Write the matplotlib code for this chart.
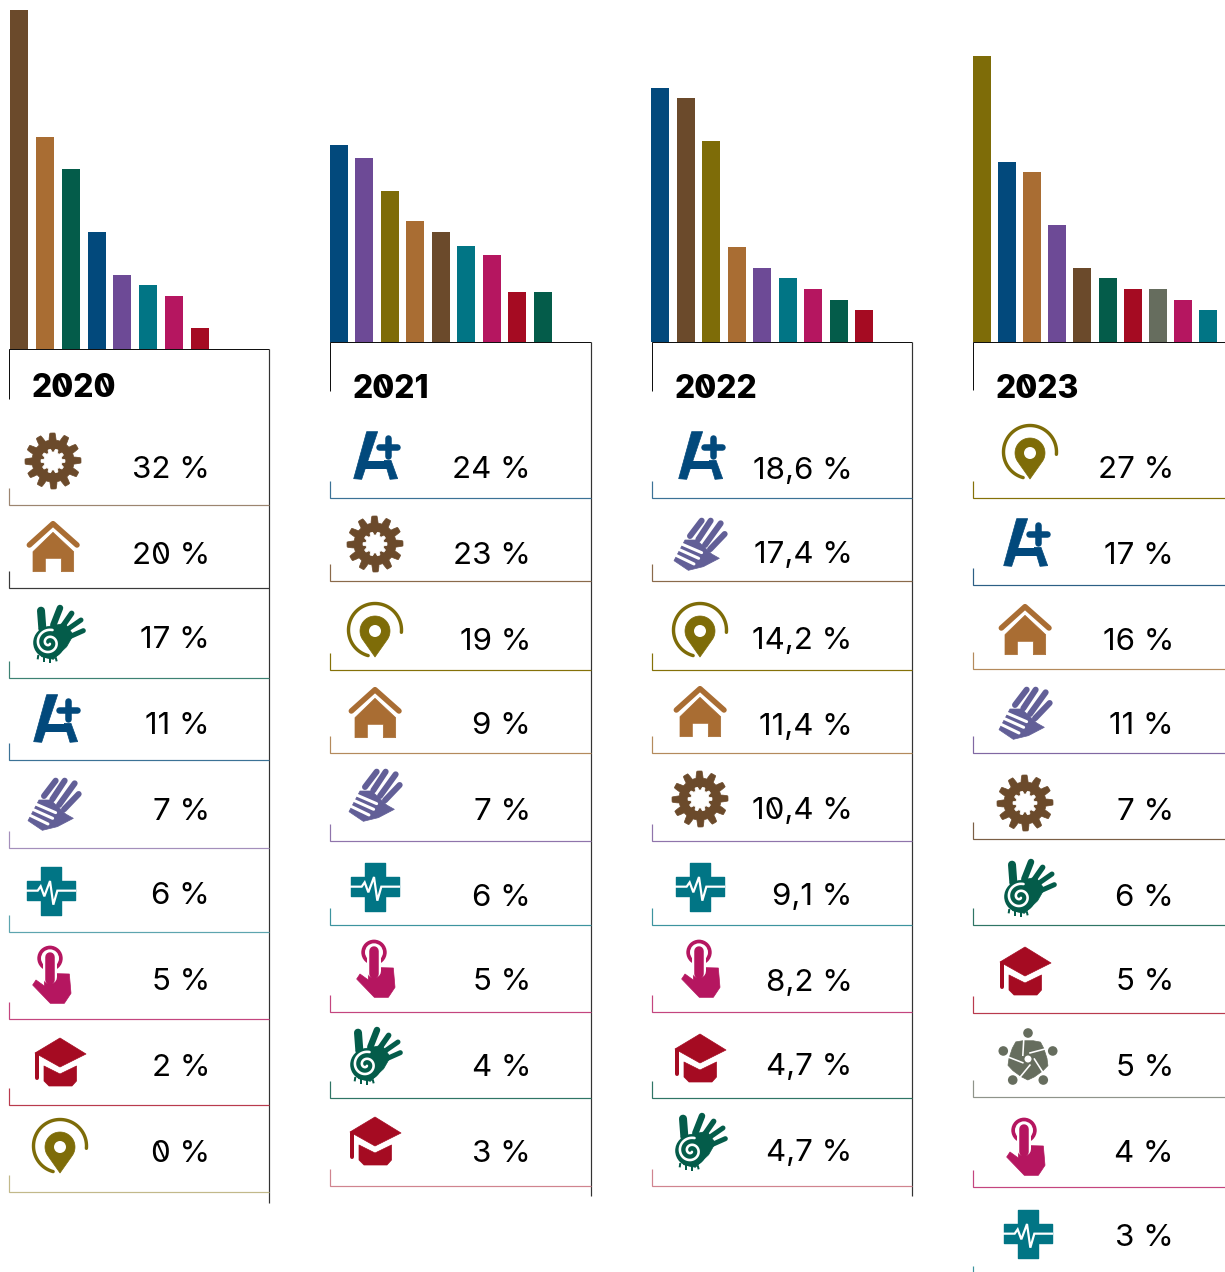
import matplotlib
matplotlib.use("Agg")
import matplotlib.pyplot as plt
import numpy as np
from matplotlib.font_manager import FontProperties
from matplotlib.patches import Circle, Polygon, Rectangle

W, H = 1225, 1272
PX = 100 / 72  # points to pixels

years = ["2020", "2021", "2022", "2023"]

# bar heights as drawn, one shared scale
bars_2020 = [32, 20, 17, 11, 7, 6, 5, 2, 0]
bars_2021 = [18.6, 17.4, 14.2, 11.4, 10.4, 9.1, 8.2, 4.7, 4.7]
bars_2022 = [24, 23, 19, 9, 7, 6, 5, 4, 3]
bars_2023 = [27, 17, 16, 11, 7, 6, 5, 5, 4, 3]

bar_cats_2020 = ["gear", "house", "spiral", "aplus", "hand", "cross", "touch", "cap"]
bar_cats_2021 = ["aplus", "hand", "pin", "house", "gear", "cross", "touch", "cap", "spiral"]
bar_cats_2022 = ["aplus", "gear", "pin", "house", "hand", "cross", "touch", "spiral", "cap"]
bar_cats_2023 = ["pin", "aplus", "house", "hand", "gear", "spiral", "cap", "people", "touch", "cross"]

# table rows
cats_2020 = ["gear", "house", "spiral", "aplus", "hand", "cross", "touch", "cap", "pin"]
cats_2021 = ["aplus", "gear", "pin", "house", "hand", "cross", "touch", "spiral", "cap"]
cats_2022 = ["aplus", "hand", "pin", "house", "gear", "cross", "touch", "cap", "spiral"]
cats_2023 = ["pin", "aplus", "house", "hand", "gear", "spiral", "cap", "people", "touch", "cross"]

labels_2020 = ["32 %", "20 %", "17 %", "11 %", "7 %", "6 %", "5 %", "2 %", "0 %"]
labels_2021 = ["24 %", "23 %", "19 %", "9 %", "7 %", "6 %", "5 %", "4 %", "3 %"]
labels_2022 = ["18,6 %", "17,4 %", "14,2 %", "11,4 %", "10,4 %", "9,1 %", "8,2 %", "4,7 %", "4,7 %"]
labels_2023 = ["27 %", "17 %", "16 %", "11 %", "7 %", "6 %", "5 %", "5 %", "4 %", "3 %"]

colors = {"gear": "#6b4a2b", "house": "#a96d33", "spiral": "#045c4a", "aplus": "#02497c",
          "hand": "#6d4a96", "cross": "#017585", "touch": "#b51660", "cap": "#a50b22",
          "pin": "#7e6c08", "people": "#666d5e"}
hand_icon = "#625f97"

rule_y_2020 = [505, 588, 678, 760, 848, 932, 1019, 1105, 1192]
rule_y_2021 = [498, 581, 670, 753, 841, 925, 1012, 1098, 1186]
rule_y_2022 = [498, 581, 670, 753, 841, 925, 1012, 1098, 1186]
rule_y_2023 = [498, 585, 669, 753, 839, 925, 1013, 1097, 1187, 1283]

rule_c_2020 = ["#9c8570", "#3a3a3a", "#3d8273", "#3b7296", "#a48fbb", "#5da5af", "#c4457f", "#b93a4d", "#c2b98a"]
rule_c_2021 = ["#3b7296", "#8a6a4a", "#857108", "#b48a5c", "#8f74ab", "#3d949f", "#c4457f", "#2f7565", "#d0848f"]
rule_c_2022 = rule_c_2021
rule_c_2023 = ["#857108", "#2c5f85", "#b48a5c", "#8068a3", "#7b5f45", "#2f7565", "#b93a4d", "#8f948a", "#c4457f", "#3d949f"]

text_y_2020 = [467, 553, 638, 724, 809, 894, 980, 1065, 1151]
text_y_2021 = [468, 553, 639, 724, 809, 895, 980, 1065, 1151]
text_y_2022 = text_y_2021
text_y_2023 = [468, 553, 639, 724, 809, 895, 980, 1066, 1151, 1236]

icon_xy_2020 = [(53, 461), (53, 547), (58, 634), (55, 718), (54, 805), (51, 891), (51, 974), (60, 1064), (60, 1146)]
icon_xy_2021 = [(375, 455), (375, 544), (375, 630), (375, 713), (375, 796), (375, 887), (375, 968), (375, 1056), (375, 1143)]
icon_xy_2022 = [(700, 455), (700, 545), (700, 630), (700, 712), (700, 799), (700, 887), (700, 968), (700, 1060), (700, 1142)]
icon_xy_2023 = [(1030, 452), (1025, 542), (1025, 630), (1025, 714), (1025, 803), (1029, 888), (1025, 973), (1028, 1058), (1025, 1146), (1028, 1234)]

fig = plt.figure(figsize=(W / 100, H / 100), dpi=100, facecolor="white")
ax = fig.add_axes([0, 0, 1, 1])
ax.set_xlim(0, W)
ax.set_ylim(H, 0)
ax.axis("off")
renderer = fig.canvas.get_renderer()


def line(pts, color, lw=1.0, cap="butt", join="miter"):
    pts = np.array(pts, dtype=float)
    ax.plot(pts[:, 0], pts[:, 1], color=color, lw=lw / PX, solid_capstyle=cap,
            solid_joinstyle=join, clip_on=True)


def poly(pts, color):
    ax.add_patch(Polygon(pts, closed=True, facecolor=color, edgecolor=color, lw=0.5, joinstyle="round"))


def mapper(cx, cy, ox, oy):
    # icon outlines are sketched in 3x zoom coordinates
    return lambda pts: [(cx + (x - ox) / 3, cy + (y - oy) / 3) for x, y in pts]


def put_text(x, y, s, fp, ha, slash_w):
    # the source font has slashed zeros, so lay the slash over each 0
    ax.text(x, y, s, fontproperties=fp, color="black", ha=ha, va="baseline")
    width = lambda t: renderer.get_text_width_height_descent(t, fp, False)[0]
    left = x - width(s) if ha == "right" else x
    w0 = width("0")
    for i, ch in enumerate(s):
        if ch == "0":
            c = left + width(s[:i + 1]) - w0 / 2
            line([(c - 4, y - 20), (c + 4, y - 2)], "black", slash_w)


def draw_gear(cx, cy, c):
    t = np.linspace(0, 2 * np.pi, 360, endpoint=False)
    r = 24.5 + 3.5 * np.clip(2.2 * np.cos(12 * t + 0.26), -1, 1)
    poly(np.c_[cx + r * np.cos(t), cy + r * np.sin(t)], c)
    r2 = 10.5 + 1.5 * np.clip(2 * np.cos(10 * t), -1, 1)
    poly(np.c_[cx + r2 * np.cos(t), cy + r2 * np.sin(t)], "white")


def draw_house(cx, cy, c):
    m = mapper(cx, cy, 158, 618)
    line(m([(87, 612), (158, 548), (230, 612)]), c, 5.5, "round", "round")
    poly(m([(98, 632), (158, 574), (220, 632), (220, 692), (183, 692), (183, 652), (135, 652), (135, 692), (98, 692)]), c)


def draw_aplus(cx, cy, c):
    m = mapper(cx, cy, 160, 84)
    poly(m([(96, 155), (135, 14), (168, 14), (120, 157)]), c)
    line(m([(125, 113), (200, 113)]), c, 8)
    poly(m([(188, 100), (208, 100), (228, 155), (205, 157)]), c)
    line(m([(172, 60), (226, 60)]), c, 6.5, "round")
    line(m([(198, 32), (198, 88)]), c, 6.5, "round")


def draw_hand(cx, cy, c):
    m = mapper(cx, cy, 160, 345)
    poly(m([(115, 330), (150, 330), (195, 372), (218, 385), (170, 410), (125, 421), (82, 392)]), c)
    for a, b in [((130, 318), (165, 272)), ((155, 328), (192, 272)), ((175, 345), (222, 280)), ((190, 358), (234, 312))]:
        line(m([a, b]), c, 6, "round")
    for a, b in [((100, 340), (165, 368)), ((96, 358), (156, 385)), ((88, 376), (142, 402))]:
        line(m([a, b]), "white", 3, "round")


def draw_cross(cx, cy, c):
    m = mapper(cx, cy, 153, 604)
    (x0, y0), (x1, y1) = m([(124, 532), (182, 677)])
    ax.add_patch(Rectangle((x0, y0), x1 - x0, y1 - y0, facecolor=c, edgecolor=c, lw=1, joinstyle="round"))
    (x0, y0), (x1, y1) = m([(80, 575), (226, 632)])
    ax.add_patch(Rectangle((x0, y0), x1 - x0, y1 - y0, facecolor=c, edgecolor=c, lw=1, joinstyle="round"))
    line(m([(78, 603), (113, 603), (122, 590), (133, 620), (150, 574), (160, 645), (172, 603), (228, 603)]), "white", 2.2)


def draw_touch(cx, cy, c):
    m = mapper(cx, cy, 150, 852)
    (x, y), = m([(147, 805)])
    ax.add_patch(Circle((x, y), 12.7, facecolor=c, edgecolor="none"))
    ax.add_patch(Circle((x, y), 9, facecolor="white", edgecolor="none"))
    line(m([(147, 800), (147, 860)]), "white", 14, "round")
    line(m([(147, 800), (147, 870)]), c, 9.5, "round")
    poly(m([(130, 850), (205, 852), (210, 910), (190, 940), (148, 940), (95, 885), (105, 870), (130, 888)]), c)


def draw_cap(cx, cy, c):
    poly([(cx, cy - 26), (cx + 26, cy - 10), (cx, cy + 3), (cx - 25, cy - 11)], c)
    poly([(cx - 16, cy + 2), (cx, cy + 10), (cx + 16.5, cy + 2), (cx + 16.5, cy + 17), (cx + 12, cy + 22),
          (cx - 11, cy + 22), (cx - 16, cy + 17)], c)
    line([(cx - 23, cy - 10), (cx - 23, cy + 14)], c, 4, "round")


def draw_pin(cx, cy, c):
    t = np.radians(np.linspace(-5, 255, 90))
    line(np.c_[cx + 26.5 * np.cos(t), cy - 26.5 * np.sin(t)], c, 3.4, "round", "round")
    hx, hy = cx, cy + 1
    t2 = np.radians(np.linspace(-35, 215, 60))
    head = np.vstack([np.c_[hx + 15 * np.cos(t2), hy - 15 * np.sin(t2)], [(hx, hy + 26)]])
    ax.add_patch(Polygon(head, closed=True, facecolor="white", edgecolor="white", lw=4))
    poly(head, c)
    ax.add_patch(Circle((hx, hy), 6, facecolor="white", edgecolor="none"))


def draw_spiral(cx, cy, c):
    m = mapper(cx, cy, 99, 102)
    for a, b, w in [((52, 85), (48, 32), 8), ((85, 75), (105, 24), 6.5), ((112, 80), (140, 40), 5.5),
                    ((122, 92), (168, 60), 5), ((130, 112), (175, 92), 5)]:
        line(m([a, b]), c, w, "round")
    poly(m([(42, 85), (120, 70), (145, 105), (125, 140), (85, 178), (50, 170)]), c)
    (x, y), = m([(72, 128)])
    ax.add_patch(Circle((x, y), 15.8, facecolor=c, edgecolor="none"))
    for a, b in [((40, 165), (38, 178)), ((58, 172), (58, 186)), ((75, 175), (75, 188)), ((92, 172), (95, 184))]:
        line(m([a, b]), c, 2)
    t = np.linspace(0, 3.3 * np.pi, 90)
    r = 1.5 + 1.12 * t
    line(np.c_[x + r * np.cos(t + 0.9), y + r * np.sin(t + 0.9)], "white", 2.6, "round", "round")


def draw_people(cx, cy, c):
    cy = cy + 1
    pos = lambda r, a: (cx + r * np.cos(a), cy - r * np.sin(a))
    angles = np.radians(90 + 72 * np.arange(5))
    outline = []
    for a in angles:
        outline += [pos(19, a - 0.28), pos(19, a + 0.28), pos(21, a + 0.62)]
    poly(outline, c)
    for a in angles:
        ax.add_patch(Circle(pos(26, a), 4.8, facecolor=c, edgecolor="none"))
        line([pos(21, a + 0.2), pos(6, a + 1.05)], "white", 1.6)
    ax.add_patch(Circle((cx, cy), 3.5, facecolor="white", edgecolor="none"))


icon_funcs = {"gear": draw_gear, "house": draw_house, "aplus": draw_aplus, "hand": draw_hand, "cross": draw_cross,
              "touch": draw_touch, "cap": draw_cap, "pin": draw_pin, "spiral": draw_spiral, "people": draw_people}

panels = [
    (bars_2020, bar_cats_2020, cats_2020, labels_2020, rule_y_2020, rule_c_2020, text_y_2020, icon_xy_2020, 9, 269, 349, 399, 1203, 19, 25.86, 397),
    (bars_2021, bar_cats_2021, cats_2021, labels_2021, rule_y_2021, rule_c_2021, text_y_2021, icon_xy_2021, 330, 590.5, 342, 391, 1196, 339, 25.45, 398),
    (bars_2022, bar_cats_2022, cats_2022, labels_2022, rule_y_2022, rule_c_2022, text_y_2022, icon_xy_2022, 651.5, 912, 342, 391, 1196, 660, 25.5, 398),
    (bars_2023, bar_cats_2023, cats_2023, labels_2023, rule_y_2023, rule_c_2023, text_y_2023, icon_xy_2023, 973, 1240, 342, 390, 1300, 982, 25.1, 398),
]

year_font = FontProperties(family="Inter", weight="heavy", size=23)
label_font = FontProperties(family="Inter", weight="normal", size=22.5)

SCALE = 10.6  # px per percent point
for year, p in zip(years, panels):
    vals, bcats, cats, labels, rule_y, rule_c, text_y, icon_xy, x0, x1, top, left_end, right_end, first, step, year_y = p

    # bars get their own axes, baseline sits on the top rule
    n = len(vals)
    bx = fig.add_axes([(first - step / 2) / W, 1 - top / H, n * step / W, top / H])
    bx.set_xlim(-0.5, n - 0.5)
    bx.set_ylim(0, top / SCALE)
    bx.axis("off")
    bx.patch.set_alpha(0)
    bar_colors = [colors[c] for c in bcats] + ["none"] * (n - len(bcats))
    bx.bar(range(n), vals, width=18 / step, color=bar_colors)

    line([(x0, left_end), (x0, top), (x1, top)], "#111111", 1)
    line([(x1, top), (x1, right_end)], "#333333", 1.2)
    put_text(x0 + 23, year_y, year, year_font, "left", 3)

    for cat, label, ry, rc, ty, (ix, iy) in zip(cats, labels, rule_y, rule_c, text_y, icon_xy):
        line([(x0, ry - 17), (x0, ry), (min(x1, W + 5), ry)], rc, 1.2)
        put_text(x0 + 201, ty + 10.5, label, label_font, "right", 2)
        c = hand_icon if cat == "hand" else colors[cat]
        icon_funcs[cat](ix, iy, c)

fig.savefig("out.png", dpi=100)
